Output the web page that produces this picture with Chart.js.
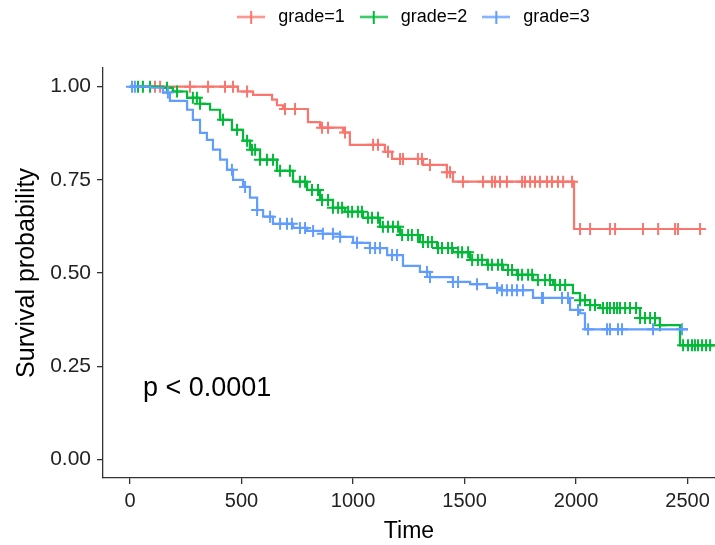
<!DOCTYPE html>
<html>
<head>
<meta charset="utf-8">
<script src="https://cdn.jsdelivr.net/npm/chart.js@4"></script>
<style>
html, body { margin: 0; padding: 0; background: #fff; }
#wrap { width: 715px; height: 545px; }
</style>
</head>
<body>
<div id="wrap"><canvas id="km" width="715" height="545"></canvas></div>
<script>
var groupNames = ['grade=1', 'grade=2', 'grade=3'];
var groupColors = ['#F8766D', '#00BA38', '#619CFF'];

// step points: time of each drop and survival after it
var g1Time = [0, 484, 552, 637, 659, 686, 798, 852, 955, 986, 1143, 1175, 1314, 1421, 1448, 1991, 2578];
var g1Surv = [1, 0.987, 0.978, 0.965, 0.95, 0.94, 0.905, 0.89, 0.877, 0.844, 0.825, 0.806, 0.79, 0.77, 0.745, 0.618, 0.618];

var g2Time = [0, 148, 193, 256, 314, 359, 404, 457, 507, 538, 583, 659, 731, 794, 852, 910, 964, 1045, 1121, 1211, 1300, 1377, 1448, 1525, 1601, 1673, 1735, 1807, 1897, 1986, 2018, 2063, 2108, 2287, 2376, 2466, 2623];
var g2Surv = [1, 0.997, 0.987, 0.970, 0.954, 0.938, 0.911, 0.884, 0.855, 0.831, 0.804, 0.774, 0.745, 0.723, 0.696, 0.675, 0.664, 0.648, 0.624, 0.602, 0.583, 0.567, 0.556, 0.535, 0.522, 0.508, 0.495, 0.481, 0.468, 0.446, 0.427, 0.414, 0.406, 0.379, 0.360, 0.306, 0.306];

var g3Time = [0, 90, 148, 179, 256, 282, 314, 345, 372, 404, 435, 462, 507, 538, 570, 597, 641, 731, 794, 865, 942, 1000, 1076, 1153, 1224, 1300, 1345, 1448, 1525, 1601, 1659, 1807, 1973, 2018, 2040, 2502];
var g3Surv = [1, 0.997, 0.984, 0.962, 0.938, 0.911, 0.876, 0.857, 0.831, 0.804, 0.777, 0.750, 0.731, 0.702, 0.669, 0.651, 0.632, 0.621, 0.613, 0.605, 0.597, 0.581, 0.567, 0.548, 0.519, 0.503, 0.489, 0.476, 0.470, 0.460, 0.454, 0.433, 0.401, 0.392, 0.349, 0.349];

// censoring times
var g1Censor = [112, 135, 269, 350, 426, 462, 525, 695, 740, 861, 888, 964, 1090, 1112, 1157, 1211, 1224, 1291, 1309, 1345, 1421, 1435, 1493, 1583, 1623, 1637, 1659, 1690, 1758, 1771, 1794, 1816, 1838, 1870, 1892, 1919, 1942, 1982, 2018, 2063, 2152, 2175, 2300, 2368, 2444, 2457, 2556];
var g2Censor = [36, 58, 90, 166, 211, 282, 300, 314, 417, 480, 525, 547, 561, 583, 614, 641, 673, 717, 762, 785, 816, 843, 861, 888, 910, 933, 951, 978, 996, 1022, 1040, 1067, 1085, 1112, 1134, 1157, 1179, 1202, 1220, 1247, 1264, 1291, 1314, 1336, 1354, 1381, 1399, 1426, 1444, 1471, 1489, 1516, 1534, 1560, 1578, 1605, 1623, 1650, 1668, 1695, 1713, 1740, 1758, 1785, 1803, 1829, 1861, 1883, 1906, 1928, 1951, 2018, 2040, 2063, 2085, 2121, 2139, 2152, 2170, 2184, 2197, 2220, 2242, 2269, 2287, 2309, 2332, 2354, 2376, 2480, 2502, 2520, 2533, 2547, 2565, 2583, 2601];
var g3Censor = [9, 22, 170, 457, 516, 570, 628, 673, 704, 726, 762, 785, 821, 865, 910, 942, 1018, 1076, 1099, 1121, 1175, 1197, 1332, 1345, 1448, 1471, 1556, 1646, 1668, 1690, 1713, 1735, 1762, 1847, 1852, 1937, 1964, 2009, 2054, 2139, 2152, 2188, 2206, 2345, 2475];

var xTicks = [0, 500, 1000, 1500, 2000, 2500];
var yTicks = [0, 0.25, 0.5, 0.75, 1];
var pvalText = 'p < 0.0001';
var pvalX = 58;
var pvalY = 0.19;

function stepPoints(times, surv) {
    return times.map(function (t, i) { return { x: t, y: surv[i] }; });
}

function survAt(times, surv, t) {
    var s = 1;
    for (var i = 0; i < times.length; i++) {
        if (times[i] <= t) s = surv[i];
    }
    return s;
}

function censorPoints(censor, times, surv) {
    return censor.map(function (t) { return { x: t, y: survAt(times, surv, t) }; });
}

function legendIcon(color) {
    var c = document.createElement('canvas');
    c.width = 28; c.height = 13;
    var x = c.getContext('2d');
    x.strokeStyle = color;
    x.lineWidth = 2;
    x.beginPath(); x.moveTo(0, 6.5); x.lineTo(28, 6.5); x.stroke();
    x.beginPath(); x.moveTo(14, 0); x.lineTo(14, 13); x.stroke();
    return c;
}

var series = [[g1Time, g1Surv, g1Censor], [g2Time, g2Surv, g2Censor], [g3Time, g3Surv, g3Censor]];
var datasets = [];
series.forEach(function (s, i) {
    datasets.push({
        label: groupNames[i],
        data: stepPoints(s[0], s[1]),
        showLine: true,
        stepped: 'before',
        borderColor: groupColors[i],
        backgroundColor: groupColors[i],
        borderWidth: 2.2,
        pointRadius: 0,
        order: 3 - i
    });
    datasets.push({
        label: groupNames[i] + ' censor',
        data: censorPoints(s[2], s[0], s[1]),
        showLine: false,
        pointStyle: 'cross',
        pointRadius: 6,
        pointBorderWidth: 2,
        borderColor: groupColors[i],
        backgroundColor: groupColors[i],
        order: 3 - i
    });
});

var pvalPlugin = {
    id: 'pval',
    afterDatasetsDraw: function (chart) {
        var ctx = chart.ctx;
        ctx.save();
        ctx.fillStyle = '#000';
        ctx.font = '27px "Liberation Sans", Arial, sans-serif';
        ctx.textAlign = 'left';
        ctx.textBaseline = 'middle';
        ctx.fillText(pvalText, chart.scales.x.getPixelForValue(pvalX), chart.scales.y.getPixelForValue(pvalY));
        ctx.restore();
    }
};

var legendPlugin = {
    id: 'legendFit',
    beforeInit: function (chart) {
        var origFit = chart.legend.fit;
        chart.legend.fit = function () {
            origFit.bind(chart.legend)();
            this.height = 68;
        };
    },
    afterLayout: function (chart) {
        chart.legend.left = 108;
        chart.legend.top = -3;
    }
};

Chart.defaults.font.family = '"Liberation Sans", Arial, sans-serif';

new Chart(document.getElementById('km'), {
    type: 'scatter',
    data: { datasets: datasets },
    plugins: [pvalPlugin, legendPlugin],
    options: {
        responsive: false,
        animation: false,
        layout: { autoPadding: false, padding: { left: 0, right: 0, top: 0, bottom: 0 } },
        plugins: {
            tooltip: { enabled: false },
            legend: {
                position: 'top',
                labels: {
                    usePointStyle: true,
                    pointStyleWidth: 36,
                    padding: 11,
                    color: '#222',
                    font: { size: 18 },
                    generateLabels: function (chart) {
                        return groupNames.map(function (n, i) {
                            return {
                                text: n,
                                fillStyle: groupColors[i],
                                strokeStyle: groupColors[i],
                                pointStyle: legendIcon(groupColors[i]),
                                lineWidth: 0,
                                hidden: false,
                                datasetIndex: i * 2
                            };
                        });
                    }
                }
            }
        },
        scales: {
            x: {
                type: 'linear',
                min: -121,
                max: 2623,
                afterFit: function (scale) { scale.height = 67; scale.paddingRight = 0; },
                afterBuildTicks: function (scale) {
                    scale.ticks = xTicks.map(function (v) { return { value: v }; });
                },
                border: { display: true, color: '#333', width: 1.3 },
                grid: { drawOnChartArea: false, drawTicks: true, tickLength: 6, color: '#333', lineWidth: 1.3 },
                ticks: {
                    color: '#222',
                    font: { size: 20 },
                    padding: 5,
                    maxRotation: 0,
                    callback: function (v) { return String(v); }
                },
                title: {
                    display: true,
                    text: 'Time',
                    color: '#000',
                    font: { size: 23 },
                    padding: { top: 0, bottom: 0 }
                }
            },
            y: {
                type: 'linear',
                min: -0.05,
                max: 1.05,
                afterFit: function (scale) { scale.width = 103; },
                afterBuildTicks: function (scale) {
                    scale.ticks = yTicks.map(function (v) { return { value: v }; });
                },
                border: { display: true, color: '#333', width: 1.3 },
                grid: { drawOnChartArea: false, drawTicks: true, tickLength: 6, color: '#333', lineWidth: 1.3 },
                ticks: {
                    color: '#222',
                    font: { size: 21 },
                    padding: 6,
                    callback: function (v) { return v.toFixed(2); }
                },
                title: {
                    display: true,
                    text: 'Survival probability',
                    color: '#000',
                    font: { size: 25 },
                    padding: { top: 12, bottom: 0 }
                }
            }
        }
    }
});
</script>
</body>
</html>
